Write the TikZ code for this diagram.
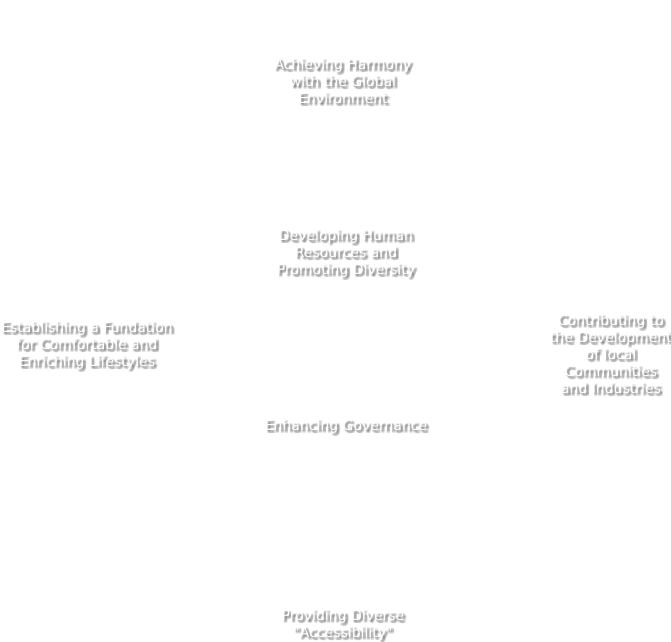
\documentclass[tikz,border=0pt]{standalone}
\usepackage{fontspec}
\setmainfont{DejaVu Sans}
\tikzset{
  lbl/.style={align=center, inner sep=0pt, text=white, font=\fontsize{14}{17}\selectfont},
  lblshadow/.style={lbl, text=black!80},
}
\newcommand\shadowlabel[4]{%
  \foreach \dx/\dy in {1/-1,2/-2,3/-3,2/-1,1/-2,3/-2,2/-3,1/-3,3/-1}{%
    \node[lblshadow, opacity=0.11, xshift=\dx pt, yshift=\dy pt] at (#2,#3) {#4};%
  }%
  \node[lbl] (#1) at (#2,#3) {#4};%
}
\begin{document}
\begin{tikzpicture}[x=1pt,y=-1pt]
  \fill[white] (0,0) rectangle (671,641);
  \useasboundingbox (0,0) rectangle (671,641);
  \shadowlabel{harmony}{343}{81}{Achieving Harmony\\with the Global\\Environment}
  \shadowlabel{human}{346}{254}{Developing Human\\Resources and\\Promoting Diversity}
  \shadowlabel{lifestyle}{87}{346}{Establishing a Fundation\\for Comfortable and\\Enriching Lifestyles}
  \shadowlabel{local}{611}{354}{Contributing to\\the Development\\of local\\Communities\\and Industries}
  \shadowlabel{governance}{346}{427}{Enhancing Governance}
  \shadowlabel{access}{343}{625}{Providing Diverse\\\textquotedbl Accessibility\textquotedbl}
\end{tikzpicture}
\end{document}
